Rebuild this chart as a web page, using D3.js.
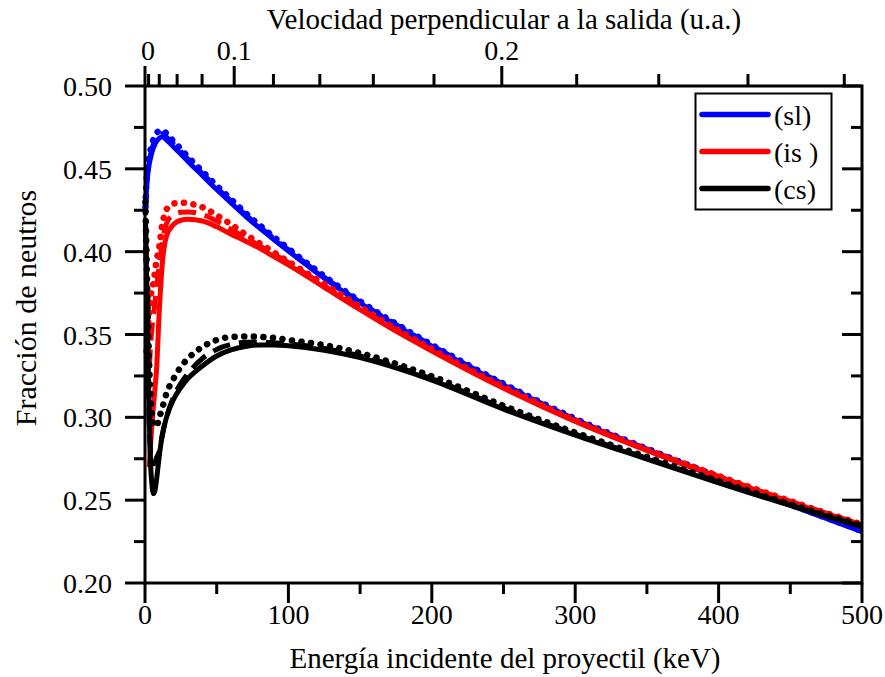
<!DOCTYPE html>
<html><head><meta charset="utf-8">
<script src="https://cdn.jsdelivr.net/npm/d3@7"></script>
<style>html,body{margin:0;padding:0;background:#fff;}svg{display:block;}</style>
</head><body><svg id="c" width="885" height="677"></svg>
<script>
// ---- data ----
const energy = [0.3,1,2,3,4,5,6,7,8,10,12,15,20,25,30,40,50,60,70,80,90,100,125,150,175,200,250,300,350,400,450,500];
const slSolid  = [0.422,0.437,0.447,0.453,0.457,0.4605,0.463,0.465,0.4665,0.4685,0.4694,0.4675,0.4632,0.459,0.4545,0.446,0.4375,0.4295,0.4215,0.4142,0.4072,0.4004,0.384,0.369,0.3555,0.343,0.3195,0.2985,0.2805,0.2635,0.247,0.231];
const slDash   = [0.424,0.439,0.449,0.455,0.459,0.4625,0.465,0.467,0.4685,0.4705,0.4712,0.4692,0.4648,0.4605,0.4558,0.4472,0.4386,0.4305,0.4224,0.415,0.4079,0.4011,0.3846,0.3695,0.356,0.3434,0.3199,0.2988,0.2808,0.2638,0.2472,0.2312];
const slDot    = [0.427,0.442,0.452,0.458,0.462,0.4655,0.468,0.470,0.4715,0.473,0.4735,0.4712,0.4665,0.462,0.4572,0.4485,0.4398,0.4316,0.4234,0.4159,0.4087,0.4018,0.3852,0.37,0.3565,0.3438,0.3203,0.2992,0.2811,0.2641,0.2475,0.2314];
const isSolid  = [null,null,null,0.270,0.285,0.298,0.308,0.318,0.328,0.365,0.392,0.4095,0.4165,0.419,0.4195,0.4185,0.415,0.4105,0.4065,0.402,0.397,0.392,0.3785,0.365,0.352,0.340,0.3175,0.2975,0.280,0.264,0.249,0.235];
const isDash   = [null,null,null,0.330,0.345,0.355,0.362,0.370,0.378,0.392,0.405,0.417,0.4225,0.4238,0.424,0.4225,0.4185,0.4135,0.4085,0.4035,0.3985,0.3933,0.3795,0.3658,0.3527,0.3406,0.318,0.2979,0.2803,0.2643,0.2493,0.2352];
const isDot    = [null,0.340,0.355,0.364,0.373,0.378,0.382,0.388,0.3945,0.403,0.416,0.4255,0.429,0.4297,0.4292,0.4268,0.422,0.4165,0.4105,0.405,0.3995,0.394,0.3805,0.3668,0.3535,0.3412,0.3185,0.2983,0.2806,0.2646,0.2495,0.2353];
const csSolid  = [0.420,0.390,0.340,0.298,0.270,0.258,0.254,0.256,0.262,0.277,0.289,0.300,0.311,0.318,0.3235,0.331,0.337,0.3407,0.3428,0.3437,0.3437,0.3432,0.3405,0.336,0.3298,0.3225,0.305,0.2893,0.2748,0.2605,0.2468,0.234];
const csDash   = [0.420,0.385,0.335,0.295,0.277,0.2725,0.272,0.273,0.2755,0.2795,0.289,0.300,0.3125,0.3205,0.3265,0.3355,0.341,0.344,0.3453,0.3455,0.345,0.3444,0.3416,0.337,0.3307,0.3233,0.3057,0.2899,0.2753,0.2609,0.2471,0.2343];
const csDot    = [0.430,0.400,0.360,0.330,0.310,0.300,0.296,0.2945,0.2945,0.300,0.3055,0.3145,0.3235,0.3305,0.3355,0.3425,0.3467,0.3485,0.3488,0.3486,0.348,0.3467,0.3436,0.3388,0.3323,0.3248,0.307,0.2908,0.2761,0.2615,0.2476,0.2347];
const legendLabels = ["(sl)","(is )","(cs)"];
const seriesColors = ["#0000ff","#ff0000","#000000"];
const xTicks = [0,100,200,300,400,500];
const xMinor = [50,150,250,350,450];
const yTicks = [0.20,0.25,0.30,0.35,0.40,0.45,0.50];
const yMinor = [0.225,0.275,0.325,0.375,0.425,0.475];
const vTicks = [0,0.1,0.2];
const vMinor = [0.02,0.04,0.06,0.08,0.12,0.14,0.16,0.18,0.22,0.24,0.26,0.28];
const E_at_v01 = 62.2; // keV corresponding to v = 0.1 a.u.

// ---- layout ----
const FONT = "'Liberation Serif', Tinos, 'Times New Roman', Times, 'DejaVu Serif', serif";
const svg = d3.select("#c").attr("font-family", FONT);
const L = 145, R = 862, T = 86, B = 583;
const x = d3.scaleLinear().domain([0,500]).range([L,R]);
const y = d3.scaleLinear().domain([0.2,0.5]).range([B,T]);
const vToE = v => E_at_v01 * (v/0.1)*(v/0.1);
const FS = 28, FT = 29;

svg.append("rect").attr("width",885).attr("height",677).attr("fill","#fff");

// curves
const groups = [
  {color:seriesColors[0], solid:slSolid, dash:slDash, dot:slDot},
  {color:seriesColors[1], solid:isSolid, dash:isDash, dot:isDot},
  {color:seriesColors[2], solid:csSolid, dash:csDash, dot:csDot}
];
const line = d3.line().defined(d=>d[1]!=null).x(d=>x(d[0])).y(d=>y(d[1])).curve(d3.curveMonotoneX);
const plot = svg.append("g");
groups.forEach(g=>{
  const pts = arr => energy.map((e,i)=>[e,arr[i]]);
  plot.append("path").attr("d",line(pts(g.solid))).attr("fill","none").attr("stroke",g.color).attr("stroke-width",5).attr("stroke-linejoin","round");
  plot.append("path").attr("d",line(pts(g.dash))).attr("fill","none").attr("stroke",g.color).attr("stroke-width",5).attr("stroke-dasharray","18 9");
  plot.append("path").attr("d",line(pts(g.dot))).attr("fill","none").attr("stroke",g.color).attr("stroke-width",6.5).attr("stroke-linecap","round").attr("stroke-dasharray","0.1 9.5");
});

// axes
const ax = svg.append("g").attr("stroke","#000").attr("stroke-width",3);
ax.append("rect").attr("x",L).attr("y",T).attr("width",R-L).attr("height",B-T).attr("fill","none");
xTicks.forEach(t=>ax.append("line").attr("x1",x(t)).attr("x2",x(t)).attr("y1",B).attr("y2",B+20));
xMinor.forEach(t=>ax.append("line").attr("x1",x(t)).attr("x2",x(t)).attr("y1",B).attr("y2",B+11));
yTicks.forEach(t=>ax.append("line").attr("x1",L-20).attr("x2",L).attr("y1",y(t)).attr("y2",y(t)));
yMinor.forEach(t=>ax.append("line").attr("x1",L-11).attr("x2",L).attr("y1",y(t)).attr("y2",y(t)));
yTicks.forEach(t=>ax.append("line").attr("x1",R-20).attr("x2",R).attr("y1",y(t)).attr("y2",y(t)));
yMinor.forEach(t=>ax.append("line").attr("x1",R-11).attr("x2",R).attr("y1",y(t)).attr("y2",y(t)));
vTicks.forEach(t=>ax.append("line").attr("x1",x(vToE(t))).attr("x2",x(vToE(t))).attr("y1",T).attr("y2",T-20));
vMinor.forEach(t=>ax.append("line").attr("x1",x(vToE(t))).attr("x2",x(vToE(t))).attr("y1",T).attr("y2",T-12));

// tick labels
const tl = svg.append("g").attr("font-size",FS);
xTicks.forEach(t=>tl.append("text").attr("x",x(t)).attr("y",624).attr("text-anchor","middle").text(t));
yTicks.forEach(t=>tl.append("text").attr("x",112).attr("y",y(t)+10).attr("text-anchor","end").text(t.toFixed(2)));
vTicks.forEach(t=>tl.append("text").attr("x",x(vToE(t))+(t===0?3:0)).attr("y",60).attr("text-anchor","middle").text(t===0?"0":String(t)));

// titles
svg.append("text").attr("x",505).attr("y",668).attr("text-anchor","middle").attr("font-size",FT).text("Energía incidente del proyectil (keV)");
svg.append("text").attr("x",504).attr("y",29).attr("text-anchor","middle").attr("font-size",FT).text("Velocidad perpendicular a la salida (u.a.)");
svg.append("text").attr("transform","translate(36,308) rotate(-90)").attr("text-anchor","middle").attr("font-size",30).text("Fracción de neutros");

// legend
const lg = svg.append("g");
lg.append("rect").attr("x",695.5).attr("y",93.5).attr("width",136).attr("height",116).attr("fill","#fff").attr("stroke","#000").attr("stroke-width",2);
legendLabels.forEach((lab,i)=>{
  const yy = 114.5 + i*37;
  lg.append("line").attr("x1",702).attr("x2",768).attr("y1",yy).attr("y2",yy).attr("stroke",seriesColors[i]).attr("stroke-width",5.5).attr("stroke-linecap","round");
  lg.append("text").attr("x",774).attr("y",yy+10).attr("font-size",FS).text(lab);
});
</script></body></html>
